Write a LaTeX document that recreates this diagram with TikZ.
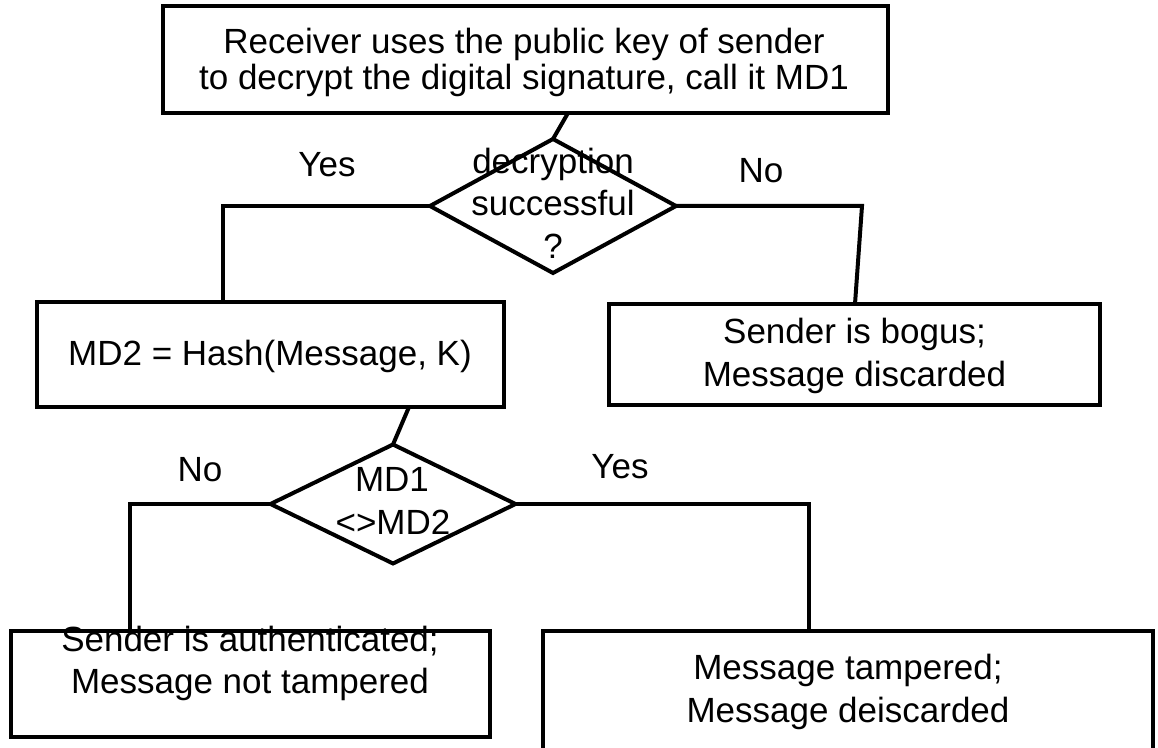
\documentclass[tikz,border=0pt]{standalone}
\usepackage{fontspec}
\setmainfont{Liberation Sans}
\usetikzlibrary{shapes.geometric,calc}
\begin{document}
\begin{tikzpicture}[x=0.75pt,y=-0.75pt,
  every node/.style={font=\fontsize{26.25}{30}\selectfont},
  frame/.style={draw=black, line width=3pt, rectangle, inner sep=0pt, outer sep=0pt},
  decision/.style={draw=black, line width=3pt, diamond, inner sep=0pt, outer sep=0pt},
  txt/.style={anchor=base, inner sep=0pt, text=black},
  link/.style={draw=black, line width=3pt, line join=miter}
]
% page area
\useasboundingbox (0,0) rectangle (1158,748);
\clip (0,0) rectangle (1158,748);
\fill[white] (0,0) rectangle (1158,748);

% boxes and decisions
\node[frame, minimum width=543.75pt, minimum height=80.25pt] (start) at (525.5,59.5) {};
\node[decision, minimum width=184.5pt, minimum height=100.5pt] (dec) at (553,206) {};
\node[frame, minimum width=350.25pt, minimum height=78.75pt] (hash) at (270.5,354.5) {};
\node[frame, minimum width=368.25pt, minimum height=75.75pt] (bogus) at (854.5,354.5) {};
\node[decision, minimum width=183.75pt, minimum height=89.25pt] (cmp) at (393,504) {};
\node[frame, minimum width=359.25pt, minimum height=79.5pt] (pass) at (250.5,684) {};
\node[frame, minimum width=457.5pt, minimum height=97.5pt] (fail) at (848,696) {};

% connectors
\coordinate (decE) at (862,206);
\draw[link] ($(start.south)+(42.5,0)$) -- (dec.north);
\draw[link] (dec.west) -| ($(hash.north)+(-47.5,0)$);
\draw[link] (dec.east) -- (decE) -- ($(bogus.north)+(0.5,0)$);
\draw[link] ($(hash.south)+(138.5,0)$) -- (cmp.north);
\draw[link] (cmp.west) -| ($(pass.north)+(-120.5,0)$);
\draw[link] (cmp.east) -| ($(fail.north)+(-39,0)$);

% texts
\node[txt] (startA) at (524,54) {Receiver uses the public key of sender};
\node[txt] (startB) at (524,90) {to decrypt the digital signature, call it MD1};
\node[txt] (decA) at (553,174) {decryption};
\node[txt] (decB) at (553,216) {successful};
\node[txt] (decC) at (553,259) {?};
\node[txt] (yesA) at (327,177) {Yes};
\node[txt] (noA) at (761,183) {No};
\node[txt] (hashT) at (270,366) {MD2 = Hash(Message, K)};
\node[txt] (bogusA) at (854.5,344) {Sender is bogus;};
\node[txt] (bogusB) at (854.5,387) {Message discarded};
\node[txt] (cmpA) at (392,492) {MD1};
\node[txt] (cmpB) at (393,535) {<>MD2};
\node[txt] (noB) at (200,482) {No};
\node[txt] (yesB) at (620,479) {Yes};
\node[txt] (passA) at (250,652) {Sender is authenticated;};
\node[txt] (passB) at (250,694) {Message not tampered};
\node[txt] (failA) at (848,680) {Message tampered;};
\node[txt] (failB) at (848,722) {Message deiscarded};
\end{tikzpicture}
\end{document}
